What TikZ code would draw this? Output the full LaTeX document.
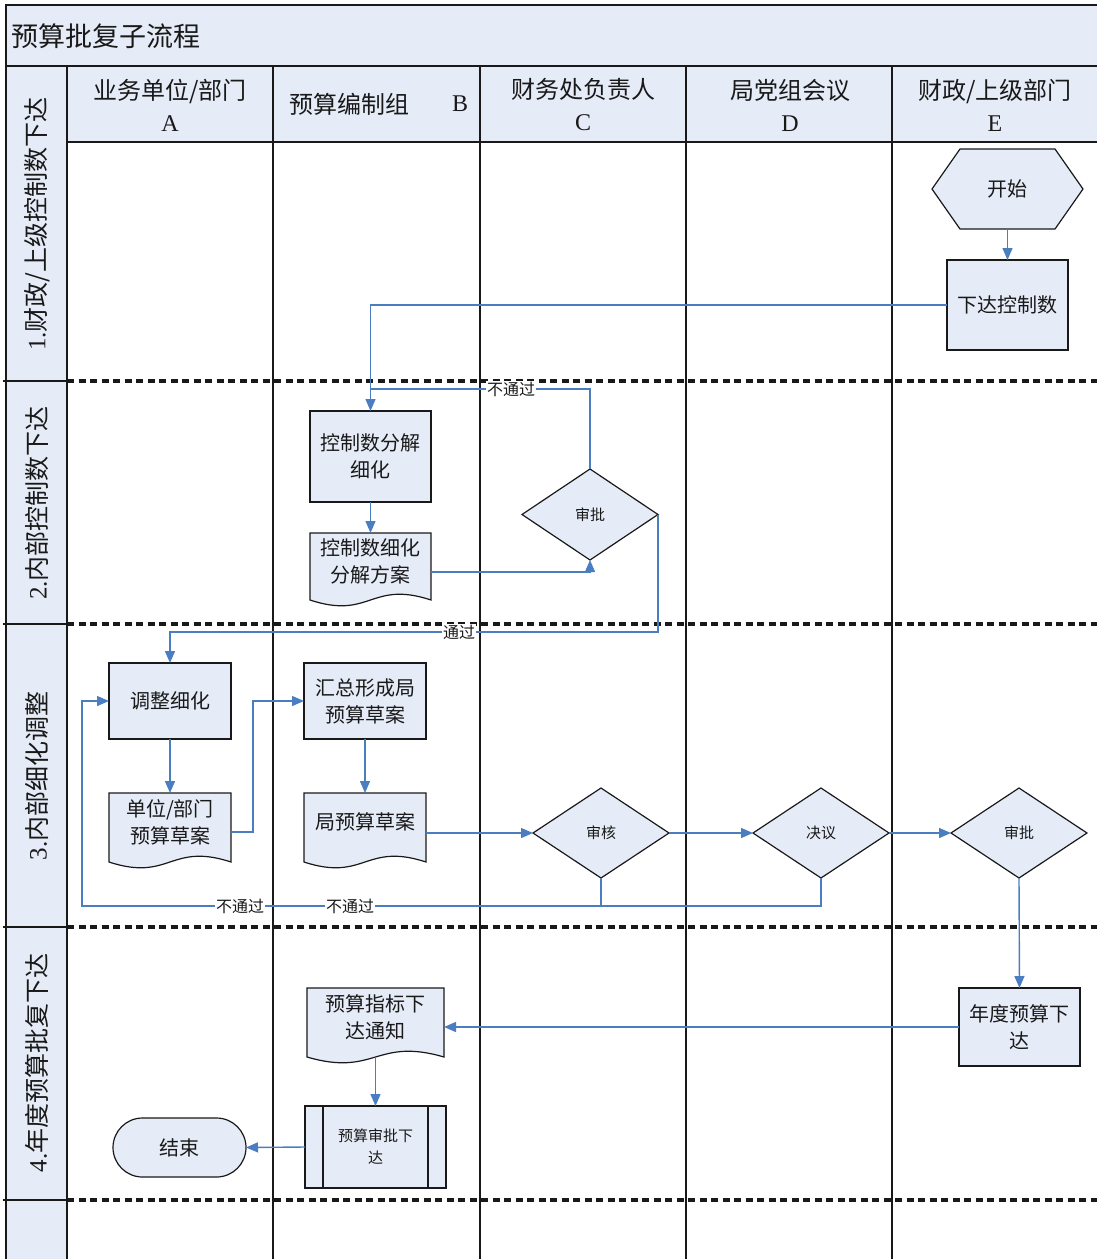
\documentclass[tikz,border=0pt]{standalone}
\usepackage{fontspec}
\setmainfont{Liberation Serif}
\newfontfamily\cjk{Noto Sans CJK SC}
\usetikzlibrary{arrows.meta,shapes.geometric,shapes.misc,calc}
\definecolor{panefill}{RGB}{230,236,247}
\definecolor{flowblue}{RGB}{74,126,193}
\definecolor{ink}{RGB}{25,25,25}
\pgfdeclarelayer{grid}
\pgfdeclarelayer{outline}
\pgfsetlayers{grid,outline,main}

\tikzset{
  gridline/.style={draw=ink, line width=1.6pt},
  lanesep/.style={draw=ink, line width=3.6pt, dash pattern=on 7pt off 4.5pt},
  shapeline/.style={draw=ink, fill=panefill, line width=1.2pt},
  boxtext/.style={font=\fontsize{20}{27}\selectfont\cjk, text=ink, align=center},
  procbox/.style={rectangle, shapeline, boxtext, inner sep=2pt, outer sep=0pt},
  docbox/.style={rectangle, draw=none, boxtext, inner sep=2pt, outer sep=0pt},
  hexbox/.style={rectangle, draw=none, boxtext, inner sep=0pt, outer sep=0pt,
    minimum width=151pt, minimum height=80pt},
  decision/.style={diamond, shapeline, inner sep=0pt, outer sep=0pt,
    minimum width=136pt, minimum height=90pt,
    font=\fontsize{15}{18}\selectfont\cjk, text=ink},
  terminal/.style={rounded rectangle, shapeline, boxtext, inner sep=0pt, outer sep=0pt,
    minimum width=133pt, minimum height=59pt},
  flowline/.style={draw=flowblue, line width=1.4pt},
  flowarrow/.style={flowline, -{Triangle[length=12pt,width=10pt]}},
  lbl/.style={fill=white, inner sep=1pt, font=\fontsize{16}{18}\selectfont\cjk, text=ink},
  hdr/.style={font=\fontsize{24}{32}\selectfont\cjk, text=ink, align=center, inner sep=0pt},
  lanetext/.style={font=\fontsize{25}{28}\selectfont\cjk, text=ink, rotate=90, inner sep=0pt}
}

% wavy-bottom document outline around a named node
\newcommand\docoutline[1]{%
  \begin{pgfonlayer}{outline}
    \draw[shapeline] (#1.north west) -- (#1.north east) -- ([yshift=-11pt]#1.south east)
      .. controls ([yshift=9pt]#1.south) and ([yshift=-31pt]#1.south) ..
      ([yshift=-11pt]#1.south west) -- cycle;
  \end{pgfonlayer}}

\begin{document}
\begin{tikzpicture}[x=1pt,y=-1pt]
\useasboundingbox (0,0) rectangle (1097,1259);

% ---------- pool, header and lanes ----------
\begin{pgfonlayer}{grid}
  \fill[panefill] (6,5) rectangle (1097,66);
  \fill[panefill] (67,66) rectangle (1097,142);
  \fill[panefill] (6,66) rectangle (67,1259);
  \draw[gridline] (6,1259) -- (6,5) -- (1097,5);
  \draw[gridline] (6,66) -- (1097,66);
  \draw[gridline] (67,142) -- (1097,142);
  \foreach \x in {67,273,480,686,892} \draw[gridline] (\x,66) -- (\x,1259);
  \foreach \y in {381,624,927,1200} {
    \draw[gridline] (3,\y) -- (67,\y);
    \draw[lanesep] (67,\y) -- (1097,\y);
  }
\end{pgfonlayer}

\node[anchor=west, font=\fontsize{27}{30}\selectfont\cjk, text=ink, inner sep=0pt] (title) at (11,36) {预算批复子流程};

\node[hdr] (colA) at (170,105) {业务单位/部门\\\rmfamily A};
\node[hdr] (colB) at (349,104) {预算编制组};
\node[hdr, font=\fontsize{24}{32}\selectfont\rmfamily] (colBletter) at (460,104) {B};
\node[hdr] (colC) at (583,105) {财务处负责人\\\rmfamily C};
\node[hdr] (colD) at (790,105) {局党组会议\\\rmfamily D};
\node[hdr] (colE) at (995,105) {财政/上级部门\\\rmfamily E};

\node[lanetext] (lane1) at (37,224) {{\rmfamily 1.}财政/上级控制数下达};
\node[lanetext] (lane2) at (37,503) {{\rmfamily 2.}内部控制数下达};
\node[lanetext] (lane3) at (37,776) {{\rmfamily 3.}内部细化调整};
\node[lanetext] (lane4) at (37,1063) {{\rmfamily 4.}年度预算批复下达};

% ---------- flow nodes ----------
\node[hexbox] (start) at (1007.5,189) {开始};
\begin{pgfonlayer}{outline}
  \draw[shapeline] ([xshift=28pt]start.north west) -- ([xshift=-28pt]start.north east)
    -- (start.east) -- ([xshift=-28pt]start.south east)
    -- ([xshift=28pt]start.south west) -- (start.west) -- cycle;
\end{pgfonlayer}

\node[procbox, minimum width=121pt, minimum height=90pt] (ctrl) at (1007.5,305) {下达控制数};
\node[procbox, minimum width=121pt, minimum height=91pt] (split) at (370.5,456.5) {控制数分解\\细化};
\node[docbox, minimum width=121pt, minimum height=56pt] (plan) at (370.5,561) {控制数细化\\分解方案};
\docoutline{plan}
\node[decision, minimum height=91pt] (review1) at (590,514.5) {审批};

\node[procbox, minimum width=122pt, minimum height=76pt] (adjust) at (170,701) {调整细化};
\node[docbox, minimum width=122pt, minimum height=58pt] (unitdoc) at (170,822) {单位/部门\\预算草案};
\docoutline{unitdoc}
\node[procbox, minimum width=122pt, minimum height=76pt] (summary) at (365,701) {汇总形成局\\预算草案};
\node[docbox, minimum width=122pt, minimum height=58pt] (bureaudoc) at (365,822) {局预算草案};
\docoutline{bureaudoc}
\node[decision] (audit) at (601,833) {审核};
\node[decision] (resolve) at (821,833) {决议};
\node[decision] (review2) at (1019,833) {审批};

\node[procbox, minimum width=121pt, minimum height=78pt] (annual) at (1019.5,1027) {年度预算下\\达};
\node[docbox, minimum width=137pt, minimum height=58pt] (notice) at (375.5,1017) {预算指标下\\达通知};
\docoutline{notice}
\node[procbox, minimum width=141pt, minimum height=82pt,
      font=\fontsize{15}{22}\selectfont\cjk] (approve) at (375.5,1147) {预算审批下\\达};
\draw[ink, line width=1.2pt] ([xshift=18pt]approve.north west) -- ([xshift=18pt]approve.south west);
\draw[ink, line width=1.2pt] ([xshift=-18pt]approve.north east) -- ([xshift=-18pt]approve.south east);
\node[terminal] (finish) at (179.5,1147.5) {结束};

% ---------- connectors ----------
\coordinate (rejoin) at (370.5,389);
\coordinate (passrow) at (459,632);
\coordinate (loopcorner) at (82,906);

\draw[flowarrow] (start.south) -- (ctrl.north);
\draw[flowarrow] (ctrl.west) -| (split.north);
\draw[flowarrow] (split.south) -- (plan.north);
\draw[flowarrow] ([yshift=-11pt]plan.east) -| (review1.south);
\draw[flowline] (review1.north) |- (rejoin);
\draw[flowarrow] (review1.east) -- (review1.east |- passrow) -| (adjust.north);

\draw[flowarrow] (adjust.south) -- (unitdoc.north);
\draw[flowarrow] ([yshift=-10pt]unitdoc.east) -- ++(22,0) |- (summary.west);
\draw[flowarrow] (summary.south) -- (bureaudoc.north);
\draw[flowarrow] (bureaudoc.east |- audit) -- (audit.west);
\draw[flowarrow] (audit.east) -- (resolve.west);
\draw[flowarrow] (resolve.east) -- (review2.west);
\draw[flowline] (audit.south) -- (audit.south |- loopcorner);
\draw[flowarrow] (resolve.south) |- (loopcorner) |- (adjust.west);

\draw[flowarrow] (review2.south) -- (annual.north);
\draw[flowarrow] (annual.west) -- (annual.west -| notice.east);
\draw[flowarrow] ([yshift=-11pt]notice.south) -- (approve.north);
\draw[flowarrow] (approve.west) -- (finish.east);

% ---------- connector labels ----------
\node[lbl] (rejectA) at (511,389) {不通过};
\node[lbl] (passA) at (459,632) {通过};
\node[lbl] (rejectB) at (240,906) {不通过};
\node[lbl] (rejectC) at (350,906) {不通过};
\end{tikzpicture}
\end{document}
